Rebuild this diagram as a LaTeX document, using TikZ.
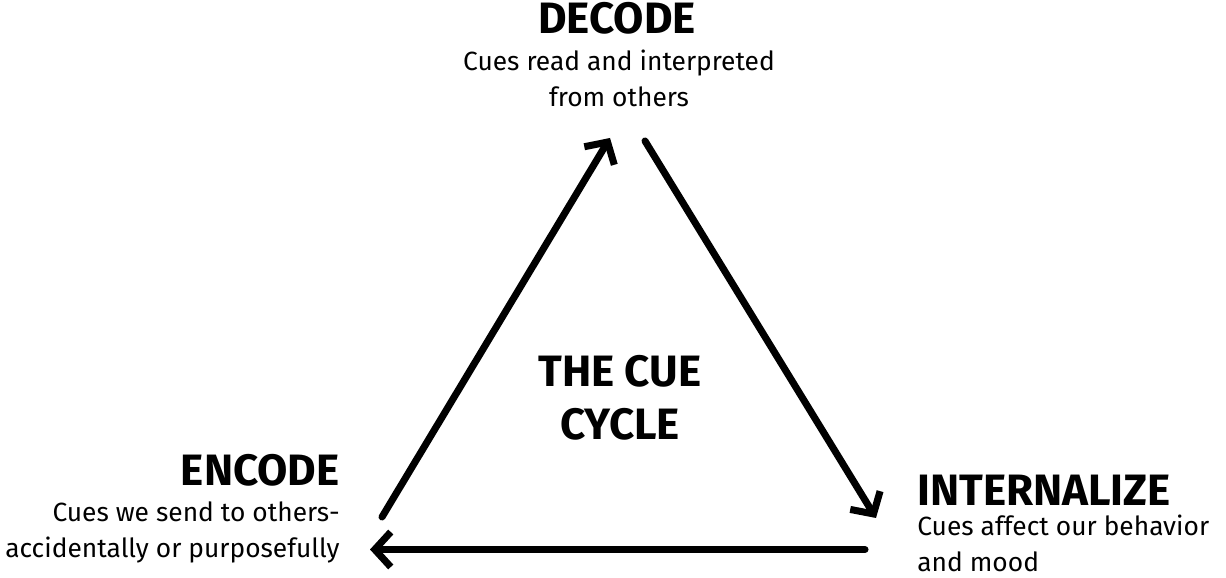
\documentclass[tikz,border=0pt]{standalone}
\usepackage{fontspec}
\setmainfont{Fira Sans}
\usetikzlibrary{arrows.meta, positioning}
\definecolor{inkblk}{HTML}{000000}

\begin{document}
\begin{tikzpicture}[>={Straight Barb[length=3.2mm, width=7mm]}]

\useasboundingbox (0,0) rectangle (24.52,11.56);

\tikzset{
  cueline/.style={inkblk, line width=4pt, line cap=round, line join=round, ->},
  headtxt/.style={text=inkblk, font=\fontsize{25}{30}\selectfont\bfseries, inner sep=0pt},
  subtxt/.style={text=inkblk, font=\fontsize{15}{20.5}\selectfont, inner sep=0pt}
}

% Title in the middle
\node[headtxt, align=center, font=\fontsize{25}{30}\selectfont\bfseries] (cycle) at (12.4,3.6) {THE CUE\\CYCLE};

% Top: decode
\node[headtxt] (decode) at (12.34,11.2) {DECODE};
\node[subtxt, align=center] (decodeTxt) at (12.38,9.99) {Cues read and interpreted\\from others};

% Left: encode
\node[headtxt, anchor=east] (encode) at (6.8,2.16) {ENCODE};
\node[subtxt, align=right, anchor=east] (encodeTxt) at (6.8,0.92) {Cues we send to others-\\accidentally or purposefully};

% Right: internalize
\node[headtxt, anchor=west] (internal) at (18.34,1.76) {INTERNALIZE};
\node[subtxt, align=left, anchor=west] (internalTxt) at (18.34,0.7) {Cues affect our behavior\\and mood};

% Arrow ends
\coordinate (encOut) at (7.64,1.22);
\coordinate (decIn) at (12.2,8.8);
\coordinate (decOut) at (12.9,8.74);
\coordinate (intIn) at (17.52,1.2);
\coordinate (intOut) at (17.3,0.57);
\coordinate (encIn) at (7.4,0.57);

% The cycle
\draw[cueline] (encOut) -- (decIn);
\draw[cueline] (decOut) -- (intIn);
\draw[cueline] (intOut) -- (encIn);

\end{tikzpicture}
\end{document}
